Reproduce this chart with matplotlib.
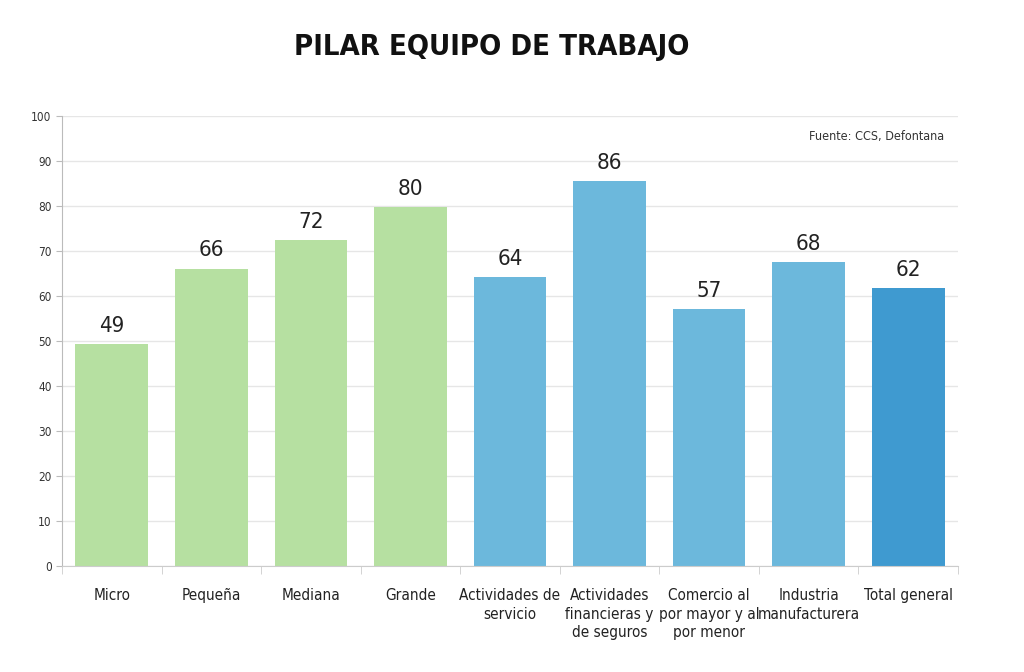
import matplotlib
matplotlib.use("Agg")
import matplotlib.pyplot as plt
from matplotlib.ticker import FixedLocator

categories = ['Micro', 'Pequeña', 'Mediana', 'Grande', 'Actividades de\nservicio',
              'Actividades\nfinancieras y\nde seguros', 'Comercio al\npor mayor y al\npor menor',
              'Industria\nmanufacturera', 'Total general']
values = [49.3, 66.1, 72.4, 79.8, 64.2, 85.6, 57.1, 67.6, 61.8]
labels = ['49', '66', '72', '80', '64', '86', '57', '68', '62']
colors = ['#b6e0a1'] * 4 + ['#6cb8dc'] * 4 + ['#3f9ad0']

plt.rcParams['font.family'] = ['DejaVu Sans']
plt.rcParams['font.stretch'] = 'condensed'

fig = plt.figure(figsize=(10.24, 6.72), dpi=100)
ax = fig.add_axes([0.0605, 0.1577, 0.875, 0.6697])

x = range(len(categories))
ax.bar(x, values, width=0.73, color=colors, zorder=2)
for xi, v, lab in zip(x, values, labels):
    ax.text(xi, v + 1.8, lab, ha='center', va='bottom', fontsize=16, color='#222222',
            fontstretch='condensed')

ax.set_xlim(-0.5, len(categories) - 0.5)
ax.set_ylim(0, 100)
ax.set_yticks(range(0, 101, 10))
ax.tick_params(axis='y', labelsize=8.5, colors='#333333', length=4, color='#bbbbbb')
ax.set_xticks(list(x))
ax.set_xticklabels(categories, fontsize=11, color='#222222', linespacing=1.3,
                   fontstretch='condensed')
ax.tick_params(axis='x', length=0, pad=16)
ax.xaxis.set_minor_locator(FixedLocator([i - 0.5 for i in range(len(categories) + 1)]))
ax.tick_params(axis='x', which='minor', length=6, color='#cccccc')
ax.grid(axis='y', color='#e6e6e6', linewidth=1, zorder=0)
ax.set_axisbelow(True)
for s in ['top', 'right']:
    ax.spines[s].set_visible(False)
ax.spines['left'].set_color('#bbbbbb')
ax.spines['bottom'].set_color('#cccccc')

ax.text(0.985, 0.955, 'Fuente: CCS, Defontana', transform=ax.transAxes,
        ha='right', va='center', fontsize=9, color='#333333', fontstretch='condensed')

fig.text(0.48, 0.93, 'PILAR EQUIPO DE TRABAJO', ha='center', va='center',
         fontsize=21, fontweight='bold', color='#111111', fontstretch='condensed')

fig.savefig('out.png', dpi=100, facecolor='white')
